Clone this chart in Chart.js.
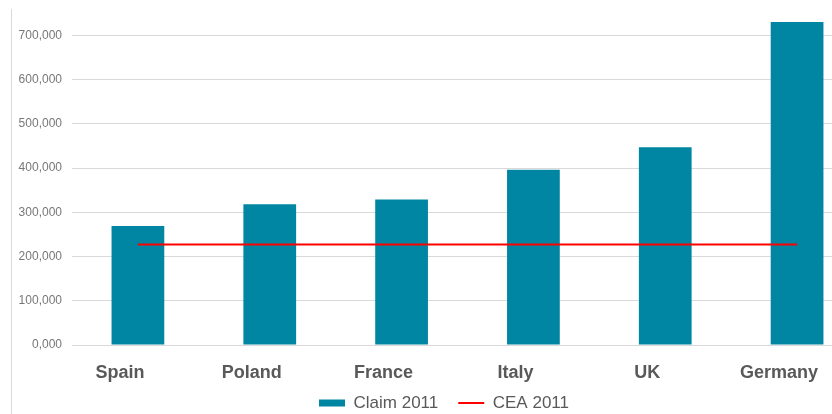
<!DOCTYPE html>
<html>
<head>
<meta charset="utf-8">
<script src="https://cdn.jsdelivr.net/npm/chart.js@4/dist/chart.umd.min.js"></script>
<style>
  html, body { margin: 0; padding: 0; background: #fff; overflow: hidden; }
  #wrap { position: relative; width: 832px; height: 414px; overflow: hidden; }
  #frameLine { position: absolute; left: 11px; top: 9px; bottom: 0; border-left: 1px solid #d9d9d9; }
  /* canvas a bit wider/taller than the picture: right edge of the plot is cropped in the original */
  #box { position: absolute; left: 0; top: -4px; width: 888px; height: 438px; }
</style>
</head>
<body>
<div id="wrap">
  <div id="box"><canvas id="chartClaims"></canvas></div>
  <div id="frameLine"></div>
</div>
<script>
// ---- Data ----
const categories  = ['Spain', 'Poland', 'France', 'Italy', 'UK', 'Germany'];
const claim2011   = [269000, 318000, 329000, 396000, 447000, 730000];
const cea2011     = [227000, 227000, 227000, 227000, 227000, 227000];
const yTickValues = [0, 100000, 200000, 300000, 400000, 500000, 600000, 700000];
const yTickLabels = ['0,000', '100,000', '200,000', '300,000', '400,000', '500,000', '600,000', '700,000'];

const TEAL = '#0086a3';
const RED  = '#ff0000';
const GREY = '#595959';
const FONT = '"Liberation Sans", Arial, sans-serif';

// nudge legend: centre it on the visible picture and pull it up a bit
const legendNudge = {
  id: 'legendNudge',
  afterLayout: function (chart) {
    const lg = chart.legend;
    if (!lg) return;
    lg.left   += 12.5;
    lg.right  += 12.5;
    lg.top    -= 10;
    lg.bottom -= 10;
  }
};

const ctx = document.getElementById('chartClaims').getContext('2d');
new Chart(ctx, {
  type: 'bar',
  data: {
    labels: categories,
    datasets: [
      {
        type: 'line',
        label: 'CEA 2011',
        data: cea2011,
        borderColor: RED,
        backgroundColor: RED,
        borderWidth: 2,
        pointRadius: 0,
        tension: 0,
        order: 0
      },
      {
        type: 'bar',
        label: 'Claim 2011',
        data: claim2011,
        backgroundColor: TEAL,
        borderWidth: 0,
        barPercentage: 0.4,
        categoryPercentage: 1.0,
        order: 1
      }
    ]
  },
  plugins: [legendNudge],
  options: {
    responsive: true,
    maintainAspectRatio: false,
    animation: false,
    layout: { padding: { left: 0, right: 25, top: 5, bottom: 2.5 } },
    plugins: {
      tooltip: { enabled: false },
      legend: {
        position: 'bottom',
        reverse: true,
        labels: {
          usePointStyle: true,
          pointStyleWidth: 26,
          boxHeight: 7,
          padding: 20,
          color: GREY,
          font: { family: FONT, size: 17 },
          generateLabels: function (chart) {
            const items = Chart.defaults.plugins.legend.labels.generateLabels(chart);
            items.forEach(function (it) {
              const ds = chart.data.datasets[it.datasetIndex];
              it.pointStyle  = ds.type === 'line' ? 'line' : 'rect';
              it.strokeStyle = ds.type === 'line' ? RED : TEAL;
              it.lineWidth   = ds.type === 'line' ? 2 : 0;
            });
            return items;
          }
        }
      }
    },
    scales: {
      x: {
        afterFit: function (s) { s.height = 39.5; },
        grid: { display: false },
        border: { display: false },
        ticks: {
          color: GREY,
          padding: 9,
          labelOffset: -18,
          font: { family: FONT, size: 18, weight: 'bold' }
        }
      },
      y: {
        min: 0,
        max: 750000,
        afterFit: function (s) { s.width = 72; },
        afterBuildTicks: function (s) {
          s.ticks = yTickValues.map(function (v) { return { value: v }; });
        },
        grid: { color: '#d9d9d9', lineWidth: 1, drawTicks: false },
        border: { display: false },
        ticks: {
          padding: 10,
          color: '#777',
          font: { family: FONT, size: 12 },
          callback: function (v, i) { return yTickLabels[i]; }
        }
      }
    }
  }
});
</script>
</body>
</html>
